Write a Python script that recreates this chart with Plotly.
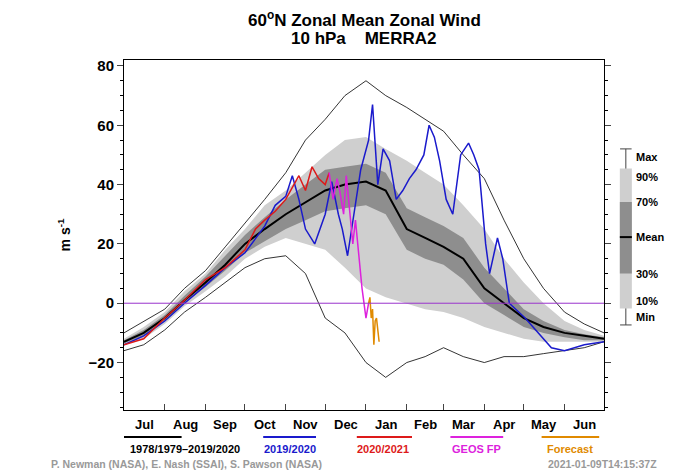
import plotly.graph_objects as go

# days since 1 July
env_days = [0, 15, 31, 46, 62, 77, 92, 107, 123, 138, 153, 168, 184, 199, 215,
            229, 243, 258, 274, 289, 304, 319, 335, 350, 365]
mean = [-13, -10, -5, 1, 7, 13, 20, 25, 30, 34, 38, 40, 41, 38, 25, 22, 19, 15, 5, 0, -5, -8, -10, -11, -12]
p70 = [-12.5, -9, -4, 2.5, 9, 16, 23, 29, 35, 40, 45, 46, 47, 44, 32, 29, 26, 22, 12, 5, -2, -6, -9, -10.5, -11.5]
p30 = [-13.5, -11, -6, 0, 5.5, 11, 17, 21, 25, 28, 31, 32, 33, 30, 18, 15, 13, 8, 0, -4, -8, -10, -11.5, -12.5, -12.5]
p90 = [-12, -8, -3, 4, 10, 18, 25, 33, 38, 44, 50, 55, 56, 52, 48, 44, 40, 33, 25, 15, 7, 0, -6, -9, -11]
p10 = [-14, -12, -7, -1, 4, 9, 15, 19, 22, 20, 18, 12, 5, 2, 0, -2, -3, -5, -8, -10, -12, -13, -13, -13, -13]
vmax = [-10, -6, -2, 5, 11, 19, 27, 35, 44, 55, 62, 70, 75, 70, 66, 62, 58, 50, 42, 28, 15, 5, -3, -7, -10]
vmin = [-16, -14, -9, -3, 2, 7, 12, 15, 16, 10, -5, -10, -20, -25, -20, -18, -15, -18, -20, -18, -18, -17, -16, -15, -13]

y1920_days = [0, 15, 31, 46, 62, 77, 92, 100, 107, 115, 123, 128, 133, 138, 145, 153, 158, 163, 166, 170,
              175, 180, 186, 189, 193, 197, 202, 207, 212, 217, 222, 228, 232, 236, 240, 245, 250,
              256, 262, 266, 270, 275, 278, 284, 288, 293, 305, 315, 325, 335, 350, 365]
y1920 = [-14, -11, -6, 0, 6, 12, 17, 22, 26, 33, 36, 43, 35, 25, 20, 30, 41, 30, 25, 16,
         30, 45, 55, 67, 40, 52, 48, 35, 38, 42, 45, 50, 60, 56, 48, 35, 30,
         50, 54, 50, 45, 20, 10, 22, 15, 0, -5, -10, -15, -16, -14, -13]

y2021_days = [0, 15, 31, 46, 62, 77, 92, 100, 107, 115, 123, 128, 133, 138, 143, 148, 153, 156]
y2021 = [-14, -12, -5, 1, 8, 12, 18, 25, 28, 31, 35, 39, 43, 38, 46, 42, 40, 44]

geos_days = [156, 159, 162, 164, 167, 169, 171, 174, 176, 179, 181, 184, 186]
geos = [44, 35, 42, 38, 30, 43, 34, 20, 28, 15, 5, -5, 0]

fc_days = [186, 187, 188, 189, 190, 191, 192, 193, 194]
fc = [0, 2, -5, -2, -14, -6, -5, -10, -13]

month_starts = [0, 31, 62, 92, 123, 153, 184, 215, 243, 274, 304, 335, 365]
months = ["Jul", "Aug", "Sep", "Oct", "Nov", "Dec", "Jan", "Feb", "Mar", "Apr", "May", "Jun"]

FONT = "Liberation Sans"
fig = go.Figure()


def band(lo, hi, color):
    fig.add_trace(go.Scatter(x=env_days, y=lo, mode="lines", line=dict(width=0), showlegend=False))
    fig.add_trace(go.Scatter(x=env_days, y=hi, mode="lines", line=dict(width=0),
                             fill="tonexty", fillcolor=color, showlegend=False))


band(p10, p90, "#cfcfcf")
band(p30, p70, "#8e8e8e")
fig.add_trace(go.Scatter(x=env_days, y=vmax, mode="lines", line=dict(color="black", width=0.8), showlegend=False))
fig.add_trace(go.Scatter(x=env_days, y=vmin, mode="lines", line=dict(color="black", width=0.8), showlegend=False))
fig.add_hline(y=0, line=dict(color="#9933cc", width=1))
fig.add_trace(go.Scatter(x=env_days, y=mean, mode="lines", line=dict(color="black", width=2), showlegend=False))
fig.add_trace(go.Scatter(x=y1920_days, y=y1920, mode="lines", line=dict(color="#1a1acc", width=1.5), showlegend=False))
fig.add_trace(go.Scatter(x=y2021_days, y=y2021, mode="lines", line=dict(color="#dd1a1a", width=1.5), showlegend=False))
fig.add_trace(go.Scatter(x=geos_days, y=geos, mode="lines", line=dict(color="#dd22dd", width=1.5), showlegend=False))
fig.add_trace(go.Scatter(x=fc_days, y=fc, mode="lines", line=dict(color="#e08a00", width=1.5), showlegend=False))

BOLD = dict(family=FONT, weight="bold")

# month labels
for i, m in enumerate(months):
    fig.add_annotation(x=(month_starts[i] + month_starts[i + 1]) / 2, y=-0.015, xref="x", yref="paper",
                       text=m, showarrow=False, xanchor="center", yanchor="top",
                       font=dict(size=13, color="black", **BOLD))

# bottom legend
leg = [("1978/1979\u20132019/2020", "black", 0.0, 0.12, 0.127), ("2019/2020", "#1a1acc", 0.29, 0.40, 0.345),
       ("2020/2021", "#dd1a1a", 0.485, 0.60, 0.54), ("GEOS FP", "#dd22dd", 0.68, 0.79, 0.735),
       ("Forecast", "#e08a00", 0.87, 0.99, 0.93)]
for txt, col, x0, x1, xc in leg:
    fig.add_shape(type="line", xref="paper", yref="paper", x0=x0, x1=x1,
                  y0=-0.077, y1=-0.077, line=dict(color=col, width=2))
    fig.add_annotation(x=xc, y=-0.11, xref="paper", yref="paper", text=txt, xanchor="center",
                       showarrow=False, yanchor="middle", font=dict(size=11, color=col, **BOLD))
fig.add_annotation(x=-0.156, y=-0.155, xref="paper", yref="paper", xanchor="left", yanchor="middle",
                   text="P. Newman (NASA), E. Nash (SSAI), S. Pawson (NASA)", showarrow=False,
                   font=dict(size=10.5, color="#999999", **BOLD))
fig.add_annotation(x=1.115, y=-0.155, xref="paper", yref="paper", xanchor="right", yanchor="middle",
                   text="2021-01-09T14:15:37Z", showarrow=False,
                   font=dict(size=10.5, color="#999999", **BOLD))

# right legend (box key)
KX0, KX1, KXC = 1.033, 1.058, 1.0455
fig.add_shape(type="line", xref="paper", yref="paper", x0=KXC, x1=KXC, y0=0.243, y1=0.746,
              line=dict(color="#444444", width=1))
for yy in (0.746, 0.243):
    fig.add_shape(type="line", xref="paper", yref="paper", x0=KXC - 0.012, x1=KXC + 0.012, y0=yy, y1=yy,
                  line=dict(color="#444444", width=1))
fig.add_shape(type="rect", xref="paper", yref="paper", x0=KX0, x1=KX1, y0=0.29, y1=0.69,
              fillcolor="#cfcfcf", line=dict(width=0))
fig.add_shape(type="rect", xref="paper", yref="paper", x0=KX0, x1=KX1, y0=0.39, y1=0.594,
              fillcolor="#8e8e8e", line=dict(width=0))
fig.add_shape(type="line", xref="paper", yref="paper", x0=KX0, x1=KX1, y0=0.494, y1=0.494,
              line=dict(color="black", width=2))
for txt, yy in [("Max", 0.746), ("90%", 0.69), ("70%", 0.594), ("Mean", 0.494), ("30%", 0.39),
                ("10%", 0.29), ("Min", 0.243)]:
    fig.add_annotation(x=1.062, y=yy, xref="paper", yref="paper", xanchor="left", text=txt,
                       showarrow=False, font=dict(size=11, color="black", **BOLD))

fig.add_annotation(x=0.5, y=1.117, xref="paper", yref="paper", xanchor="center", yanchor="middle",
                   showarrow=False, text="60<sup>o</sup>N Zonal Mean Zonal Wind",
                   font=dict(size=17, color="black", **BOLD))
fig.add_annotation(x=0.5, y=1.06, xref="paper", yref="paper", xanchor="center", yanchor="middle",
                   showarrow=False, text="10 hPa    MERRA2", font=dict(size=17, color="black", **BOLD))

# the page body adds an 8px offset, so the figure is drawn 8px smaller
fig.update_layout(
    width=692, height=465, margin=dict(l=116, r=96, t=52, b=63, autoexpand=False),
    plot_bgcolor="white", paper_bgcolor="white",
    font=dict(family=FONT, color="black"),
    xaxis=dict(range=[0, 365], tickvals=month_starts, showticklabels=False, ticks="inside",
               ticklen=6, showgrid=False, zeroline=False, showline=True, linecolor="black",
               mirror=True, linewidth=1),
    yaxis=dict(range=[-36, 82], tickvals=[-20, 0, 20, 40, 60, 80], ticks="outside", ticklen=6,
               showgrid=False, zeroline=False, showline=True, linecolor="black", mirror="ticks",
               linewidth=1, tickfont=dict(size=15, **BOLD),
               minor=dict(dtick=5, ticks="outside", ticklen=3, tickcolor="black"),
               title=dict(text="m s<sup>-1</sup>", font=dict(size=14, **BOLD), standoff=14)),
)
fig.write_html("out.html")
